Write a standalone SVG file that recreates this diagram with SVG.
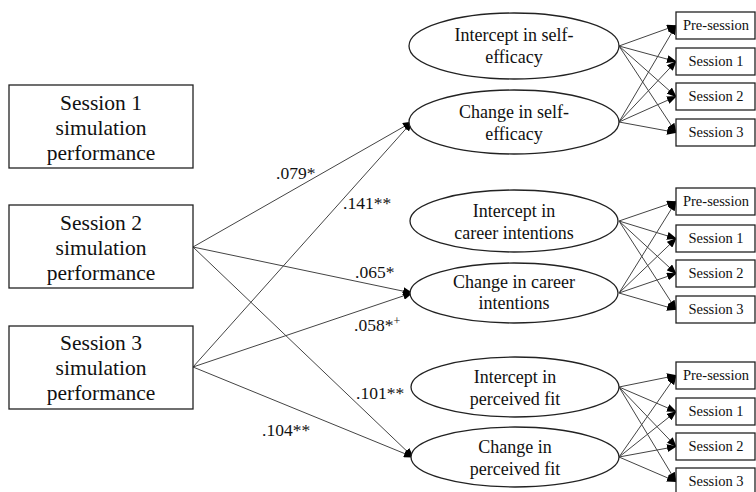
<svg xmlns="http://www.w3.org/2000/svg" width="756" height="492" viewBox="0 0 756 492">
<style>
.box{fill:#fff;stroke:#222;stroke-width:1.3}
.ell{fill:#fff;stroke:#222;stroke-width:1.3}
.ln{stroke:#444;stroke-width:1;fill:none;marker-end:url(#ah)}
text{font-family:"Liberation Serif","Times New Roman",serif;fill:#111;text-anchor:middle}
.big{font-size:21.5px}
.mid{font-size:18px}
.sm{font-size:14.5px}
.lab{font-size:17.5px;text-anchor:start}
</style>
<defs>
<marker id="ah" markerUnits="userSpaceOnUse" markerWidth="10" markerHeight="8" refX="9" refY="4" orient="auto">
<path d="M0,0 L10,4 L0,8 z" fill="#000"/>
</marker>
</defs>
<rect width="756" height="492" fill="#fff"/>
<g id="connectors">
<line class="ln" x1="193" y1="247" x2="412" y2="122"/>
<line class="ln" x1="193" y1="247" x2="412" y2="293"/>
<line class="ln" x1="193" y1="247" x2="413" y2="457"/>
<line class="ln" x1="193" y1="367" x2="412" y2="122"/>
<line class="ln" x1="193" y1="367" x2="412" y2="293"/>
<line class="ln" x1="193" y1="367" x2="413" y2="457"/>
<line class="ln" x1="619" y1="46" x2="676" y2="25.5"/>
<line class="ln" x1="619" y1="46" x2="676" y2="61.5"/>
<line class="ln" x1="619" y1="46" x2="676" y2="96.5"/>
<line class="ln" x1="619" y1="46" x2="676" y2="132.5"/>
<line class="ln" x1="619" y1="122" x2="676" y2="25.5"/>
<line class="ln" x1="619" y1="122" x2="676" y2="61.5"/>
<line class="ln" x1="619" y1="122" x2="676" y2="96.5"/>
<line class="ln" x1="619" y1="122" x2="676" y2="132.5"/>
<line class="ln" x1="619" y1="221" x2="676" y2="201.5"/>
<line class="ln" x1="619" y1="221" x2="676" y2="238.5"/>
<line class="ln" x1="619" y1="221" x2="676" y2="273.5"/>
<line class="ln" x1="619" y1="221" x2="676" y2="309.5"/>
<line class="ln" x1="619" y1="293" x2="676" y2="201.5"/>
<line class="ln" x1="619" y1="293" x2="676" y2="238.5"/>
<line class="ln" x1="619" y1="293" x2="676" y2="273.5"/>
<line class="ln" x1="619" y1="293" x2="676" y2="309.5"/>
<line class="ln" x1="619" y1="387" x2="676" y2="375.5"/>
<line class="ln" x1="619" y1="387" x2="676" y2="411.5"/>
<line class="ln" x1="619" y1="387" x2="676" y2="446.5"/>
<line class="ln" x1="619" y1="387" x2="676" y2="481.5"/>
<line class="ln" x1="619" y1="457" x2="676" y2="375.5"/>
<line class="ln" x1="619" y1="457" x2="676" y2="411.5"/>
<line class="ln" x1="619" y1="457" x2="676" y2="446.5"/>
<line class="ln" x1="619" y1="457" x2="676" y2="481.5"/>
</g>
<g id="labels">
<text class="lab" x="276" y="179">.079*</text>
<text class="lab" x="343" y="209">.141**</text>
<text class="lab" x="355" y="278">.065*</text>
<text class="lab" x="354" y="331">.058*<tspan font-size="12" dy="-6">+</tspan></text>
<text class="lab" x="356" y="399">.101**</text>
<text class="lab" x="262" y="436">.104**</text>
</g>
<g id="s1perf"><rect class="box" x="9" y="85" width="184" height="83"/><text class="big" x="101" y="110">Session 1</text><text class="big" x="101" y="135">simulation</text><text class="big" x="101" y="160">performance</text></g>
<g id="s2perf"><rect class="box" x="9" y="205" width="184" height="83"/><text class="big" x="101" y="230">Session 2</text><text class="big" x="101" y="255">simulation</text><text class="big" x="101" y="280">performance</text></g>
<g id="s3perf"><rect class="box" x="9" y="326" width="184" height="83"/><text class="big" x="101" y="350">Session 3</text><text class="big" x="101" y="375">simulation</text><text class="big" x="101" y="400">performance</text></g>
<g id="int_se"><ellipse class="ell" cx="514" cy="46" rx="105" ry="33"/><text class="mid" x="514" y="41">Intercept in self-</text><text class="mid" x="514" y="63">efficacy</text></g>
<g id="chg_se"><ellipse class="ell" cx="514" cy="122" rx="105" ry="32"/><text class="mid" x="514" y="118">Change in self-</text><text class="mid" x="514" y="140">efficacy</text></g>
<g id="int_ci"><ellipse class="ell" cx="514" cy="221" rx="104" ry="31"/><text class="mid" x="514" y="217">Intercept in</text><text class="mid" x="514" y="239">career intentions</text></g>
<g id="chg_ci"><ellipse class="ell" cx="514" cy="293" rx="104" ry="30"/><text class="mid" x="514" y="288">Change in career</text><text class="mid" x="514" y="309">intentions</text></g>
<g id="int_pf"><ellipse class="ell" cx="515" cy="387" rx="104" ry="30"/><text class="mid" x="515" y="383">Intercept in</text><text class="mid" x="515" y="405">perceived fit</text></g>
<g id="chg_pf"><ellipse class="ell" cx="515" cy="457" rx="104" ry="30"/><text class="mid" x="515" y="453">Change in</text><text class="mid" x="515" y="475">perceived fit</text></g>
<g id="se_pre"><rect class="box" x="676" y="12" width="79" height="27"/><text class="sm" x="716" y="30">Pre-session</text></g>
<g id="se_s1"><rect class="box" x="676" y="48" width="79" height="27"/><text class="sm" x="716" y="66">Session 1</text></g>
<g id="se_s2"><rect class="box" x="676" y="83" width="79" height="27"/><text class="sm" x="716" y="101">Session 2</text></g>
<g id="se_s3"><rect class="box" x="676" y="119" width="79" height="27"/><text class="sm" x="716" y="137">Session 3</text></g>
<g id="ci_pre"><rect class="box" x="676" y="188" width="79" height="27"/><text class="sm" x="716" y="206">Pre-session</text></g>
<g id="ci_s1"><rect class="box" x="676" y="225" width="79" height="27"/><text class="sm" x="716" y="243">Session 1</text></g>
<g id="ci_s2"><rect class="box" x="676" y="260" width="79" height="27"/><text class="sm" x="716" y="278">Session 2</text></g>
<g id="ci_s3"><rect class="box" x="676" y="296" width="79" height="27"/><text class="sm" x="716" y="314">Session 3</text></g>
<g id="pf_pre"><rect class="box" x="676" y="362" width="79" height="27"/><text class="sm" x="716" y="380">Pre-session</text></g>
<g id="pf_s1"><rect class="box" x="676" y="398" width="79" height="27"/><text class="sm" x="716" y="416">Session 1</text></g>
<g id="pf_s2"><rect class="box" x="676" y="433" width="79" height="27"/><text class="sm" x="716" y="451">Session 2</text></g>
<g id="pf_s3"><rect class="box" x="676" y="468" width="79" height="27"/><text class="sm" x="716" y="486">Session 3</text></g>
</svg>
